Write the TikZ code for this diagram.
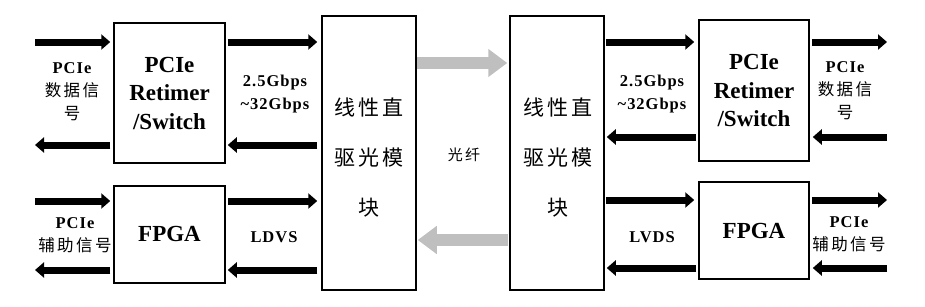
\documentclass[tikz,border=0pt]{standalone}
\usepackage{fontspec}
\setmainfont{Liberation Serif}
\newfontfamily\lblfont[LetterSpace=6]{Liberation Serif}
\newfontfamily\cjk[LetterSpace=15]{Noto Sans CJK SC}
\newfontfamily\cjkwide[LetterSpace=14]{Noto Sans CJK SC}
\usetikzlibrary{arrows.meta}
\begin{document}
\begin{tikzpicture}[x=1pt,y=-1pt,
  box/.style={draw, line width=1.5pt, inner sep=0pt, minimum width=111pt},
  barrow/.style={line width=7pt, -{Triangle[length=9pt,width=15pt]}},
  garrow/.style={line width=12pt, draw=black!25, -{Triangle[length=19pt,width=27pt]}},
  bigtxt/.style={font=\fontsize{23}{28.5}\selectfont\bfseries, align=center, inner sep=0pt},
  labtxt/.style={font=\lblfont\fontsize{16.5}{23}\selectfont\bfseries, align=center, inner sep=0pt},
  modtxt/.style={font=\cjkwide\fontsize{21}{50}\selectfont, align=center, inner sep=0pt},
  fibtxt/.style={font=\cjk\fontsize{15}{20}\selectfont, inner sep=0pt}]
\useasboundingbox (0,0) rectangle (925,306);
% boxes
\node[box, minimum height=140pt] (rL) at (169.5,93) {};
\node[box, minimum height=97pt] (fL) at (169.5,234.5) {};
\node[box, minimum width=94pt, minimum height=274pt] (oL) at (369,153) {};
\node[box, minimum width=94pt, minimum height=274pt] (oR) at (557,153) {};
\node[box, minimum width=110pt, minimum height=141pt] (rR) at (754,90.5) {};
\node[box, minimum width=110pt, minimum height=97pt] (fR) at (754,230.5) {};
% box texts
\node[bigtxt] (trL) at (rL) {PCIe\\Retimer\\/Switch};
\node[bigtxt] (tfL) at (169.5,234) {FPGA};
\node[bigtxt] (trR) at (rR) {PCIe\\Retimer\\/Switch};
\node[bigtxt] (tfR) at (754,231) {FPGA};
\node[modtxt] (toL) at (369,157.5) {线性直\\驱光模\\块};
\node[modtxt] (toR) at (558,157.5) {线性直\\驱光模\\块};
\node[fibtxt] (fib) at (464,155) {光纤};
% labels
\node[labtxt] (l1) at (72,92) {PCIe\\{\cjk\mdseries 数据信}\\{\cjk\mdseries 号}};
\node[labtxt] (l2) at (75,235) {PCIe\\{\cjk\mdseries 辅助信号}};
\node[labtxt] (l3) at (275,94.5) {2.5Gbps\\\textasciitilde32Gbps};
\node[labtxt] (l4) at (274,237) {LDVS};
\node[labtxt] (r1) at (845,91) {PCIe\\{\cjk\mdseries 数据信}\\{\cjk\mdseries 号}};
\node[labtxt] (r2) at (849,234) {PCIe\\{\cjk\mdseries 辅助信号}};
\node[labtxt] (r3) at (652,94.5) {2.5Gbps\\\textasciitilde32Gbps};
\node[labtxt] (r4) at (652,237) {LVDS};
% free ends
\coordinate (a1) at (35,42);
\coordinate (a2) at (35,145);
\coordinate (a3) at (35,201);
\coordinate (a4) at (35,270);
\coordinate (b1) at (887,42);
\coordinate (b2) at (887,137);
\coordinate (b3) at (887,200);
\coordinate (b4) at (887,268);
% left outer arrows
\draw[barrow, shorten >=3pt] (a1) -- (a1 -| rL.west);
\draw[barrow, shorten <=3pt] (a2 -| rL.west) -- (a2);
\draw[barrow, shorten >=3pt] (a3) -- (a3 -| fL.west);
\draw[barrow, shorten <=3pt] (a4 -| fL.west) -- (a4);
% left inner arrows
\draw[barrow, shorten <=2pt, shorten >=4pt] (rL.east |- a1) -- (oL.west |- a1);
\draw[barrow, shorten <=4pt, shorten >=2pt] (oL.west |- a2) -- (rL.east |- a2);
\draw[barrow, shorten <=2pt, shorten >=4pt] (fL.east |- a3) -- (oL.west |- a3);
\draw[barrow, shorten <=4pt, shorten >=2pt] (oL.west |- a4) -- (fL.east |- a4);
% right inner arrows
\draw[barrow, shorten <=1pt, shorten >=4pt] (oR.east |- b1) -- (rR.west |- b1);
\draw[barrow, shorten <=2pt, shorten >=2pt] (rR.west |- b2) -- (oR.east |- b2);
\draw[barrow, shorten <=1pt, shorten >=4pt] (oR.east |- b3) -- (fR.west |- b3);
\draw[barrow, shorten <=2pt, shorten >=2pt] (fR.west |- b4) -- (oR.east |- b4);
% right outer arrows
\draw[barrow, shorten <=2pt] (rR.east |- b1) -- (b1);
\draw[barrow, shorten >=3pt] (b2) -- (b2 -| rR.east);
\draw[barrow, shorten <=2pt] (fR.east |- b3) -- (b3);
\draw[barrow, shorten >=3pt] (b4) -- (b4 -| fR.east);
% fibre arrows
\coordinate (g1) at (0,63);
\coordinate (g2) at (0,240);
\draw[garrow, shorten >=2pt] (oL.east |- g1) -- (oR.west |- g1);
\draw[garrow, shorten <=1pt, shorten >=1pt] (oR.west |- g2) -- (oL.east |- g2);
\end{tikzpicture}
\end{document}
